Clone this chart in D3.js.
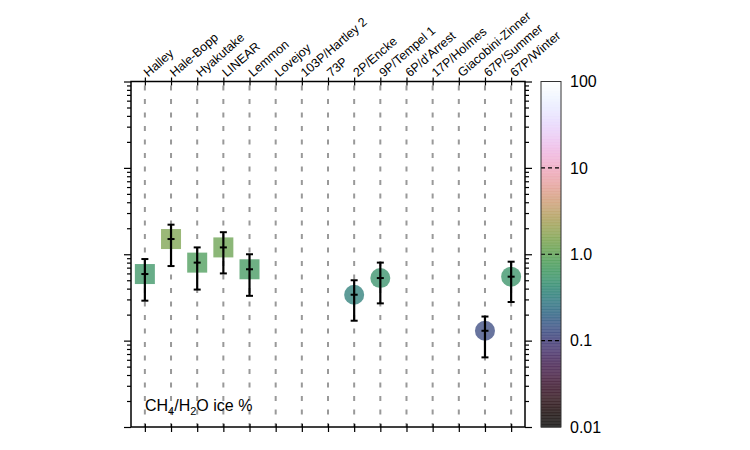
<!doctype html>
<html lang="en">
<head>
    <meta charset="UTF-8">
    <title>CH4/H2O ice</title>
    <style>
        body { margin: 0; background: #fff; }
        text { font-family: "Liberation Sans", Arial, sans-serif; }
    </style>
</head>
<body>
<script src="https://cdn.jsdelivr.net/npm/d3@7"></script>
<script>

    // comets along the top axis
    const comets = ['Halley', 'Hale-Bopp', 'Hyakutake', 'LINEAR', 'Lemmon', 'Lovejoy',
        '103P/Hartley 2', '73P', '2P/Encke', '9P/Tempel 1', "6P/d'Arrest", '17P/Holmes',
        'Giacobini-Zinner', '67P/Summer', '67P/Winter']

    // measured values (square = coma, circle = nucleus)
    const remoteNames = ['Halley', 'Hale-Bopp', 'Hyakutake', 'LINEAR', 'Lemmon']
    const remoteValues = [0.59, 1.5, 0.8, 1.2, 0.67]
    const remoteLow = [0.29, 0.73, 0.39, 0.6, 0.33]
    const remoteHigh = [0.88, 2.2, 1.2, 1.8, 1.0]

    const insituNames = ['2P/Encke', '9P/Tempel 1', '67P/Summer', '67P/Winter']
    const insituValues = [0.34, 0.53, 0.13, 0.55]
    const insituLow = [0.17, 0.27, 0.064, 0.28]
    const insituHigh = [0.5, 0.8, 0.19, 0.82]

    const cbTicks = [100, 10, 1, 0.1, 0.01]
    const cbLabels = ['100', '10', '1.0', '0.1', '0.01']

    const W = 750, H = 450
    const pLeft = 131, pRight = 525, pTop = 81.5, pBottom = 427

    const svg = d3.select('body').append('svg')
        .attr('width', W).attr('height', H)

    const x = d3.scalePoint().domain(comets).range([pLeft, pRight]).padding(0.53)
    const y = d3.scaleLog().domain([0.01, 100]).range([pBottom, pTop])
    // cubehelix ramp, start hue shifted so that 1.0 sits on green
    const helix = d3.interpolateCubehelixLong(d3.cubehelix(375, 0.55, 0), d3.cubehelix(-165, 0.55, 1))
    const color = v => helix((Math.log10(v) + 2) / 4)

    // dashed guides
    svg.append('g').selectAll('line')
        .data(comets).join('line')
        .attr('x1', d => x(d)).attr('x2', d => x(d))
        .attr('y1', pTop + 4).attr('y2', pBottom)
        .attr('stroke', '#999').attr('stroke-width', 2)
        .attr('stroke-dasharray', '5,8.5')

    // frame
    svg.append('rect')
        .attr('x', pLeft).attr('y', pTop)
        .attr('width', pRight - pLeft).attr('height', pBottom - pTop)
        .attr('fill', 'none').attr('stroke', '#000').attr('stroke-width', 1.5)

    // top axis with labels
    const topAxis = svg.append('g').attr('transform', `translate(0,${pTop})`)
        .call(d3.axisTop(x).tickSize(4))
    topAxis.select('.domain').remove()
    topAxis.selectAll('.tick line').attr('y2', -4).attr('y1', 4).attr('stroke-width', 1.2)
    topAxis.selectAll('.tick text')
        .attr('font-size', 12.5).attr('fill', '#000')
        .attr('text-anchor', 'start')
        .attr('transform', 'translate(3,-4) rotate(-41)')
        .attr('x', 0).attr('y', 0).attr('dy', 0)

    // bottom ticks
    const botAxis = svg.append('g').attr('transform', `translate(0,${pBottom})`)
        .call(d3.axisBottom(x).tickSize(5).tickFormat(''))
    botAxis.select('.domain').remove()
    botAxis.selectAll('.tick line').attr('y1', -3).attr('stroke-width', 1.2)

    // log axes left and right, no labels
    const logTicks = y.ticks()
    const major = v => Math.abs(Math.log10(v) - Math.round(Math.log10(v))) < 1e-6
    const addLogAxis = (gen, xpos, sign) => {
        const g = svg.append('g').attr('transform', `translate(${xpos},0)`)
            .call(gen(y).tickValues(logTicks).tickFormat('').tickSize(4))
        g.select('.domain').remove()
        g.selectAll('.tick line')
            .attr('stroke-width', 1.2)
            .attr('x2', d => sign * (major(d) ? 7 : 4))
    }
    addLogAxis(d3.axisLeft, pLeft, -1)
    addLogAxis(d3.axisRight, pRight, 1)

    // error bars
    const drawErr = (names, vals, lo, hi) => {
        const g = svg.append('g')
        names.forEach((n, i) => {
            const cx = x(n)
            g.append('line').attr('x1', cx).attr('x2', cx)
                .attr('y1', y(lo[i])).attr('y2', y(hi[i]))
                .attr('stroke', '#000').attr('stroke-width', 2.2)
            ;[lo[i], hi[i], vals[i]].forEach(v => {
                g.append('line').attr('x1', cx - 3.5).attr('x2', cx + 3.5)
                    .attr('y1', y(v)).attr('y2', y(v))
                    .attr('stroke', '#000').attr('stroke-width', 2)
            })
        })
    }

    // squares
    svg.append('g').selectAll('rect')
        .data(remoteNames).join('rect')
        .attr('x', d => x(d) - 10)
        .attr('y', (d, i) => y(remoteValues[i]) - 10)
        .attr('width', 20).attr('height', 20)
        .attr('fill', (d, i) => color(remoteValues[i]))
        .attr('opacity', 0.75)

    // circles
    svg.append('g').selectAll('circle')
        .data(insituNames).join('circle')
        .attr('cx', d => x(d))
        .attr('cy', (d, i) => y(insituValues[i]))
        .attr('r', 10)
        .attr('fill', (d, i) => color(insituValues[i]))
        .attr('opacity', 0.75)

    drawErr(remoteNames, remoteValues, remoteLow, remoteHigh)
    drawErr(insituNames, insituValues, insituLow, insituHigh)

    // label
    const lab = svg.append('text').attr('x', 145).attr('y', 411)
        .attr('font-size', 16).attr('fill', '#000')
    lab.append('tspan').text('CH')
    lab.append('tspan').text('4').attr('font-size', 11).attr('dy', 4)
    lab.append('tspan').text('/H').attr('dy', -4)
    lab.append('tspan').text('2').attr('font-size', 11).attr('dy', 4)
    lab.append('tspan').text('O ice %').attr('dy', -4)

    // colorbar
    const cbX = 541, cbW = 20
    const steps = d3.range(0, 120)
    const stepH = (pBottom - pTop) / steps.length
    svg.append('g').selectAll('rect')
        .data(steps).join('rect')
        .attr('x', cbX).attr('width', cbW)
        .attr('y', d => pBottom - (d + 1) * stepH)
        .attr('height', stepH + 0.5)
        .attr('fill', d => helix((d + 0.5) / steps.length))
        .attr('opacity', 0.8)
    svg.append('g').selectAll('line')
        .data(cbTicks.slice(1, 4)).join('line')
        .attr('x1', cbX).attr('x2', cbX + cbW)
        .attr('y1', d => y(d)).attr('y2', d => y(d))
        .attr('stroke', '#000').attr('stroke-width', 1.2)
        .attr('stroke-dasharray', '4,3')
    svg.append('rect')
        .attr('x', cbX).attr('y', pTop).attr('width', cbW).attr('height', pBottom - pTop)
        .attr('fill', 'none').attr('stroke', '#333').attr('stroke-width', 1)
    svg.append('g').selectAll('text')
        .data(cbTicks).join('text')
        .attr('x', 570).attr('y', d => y(d))
        .attr('dy', '0.36em')
        .attr('font-size', 16).attr('fill', '#000')
        .text((d, i) => cbLabels[i])

</script>
</body>
</html>
